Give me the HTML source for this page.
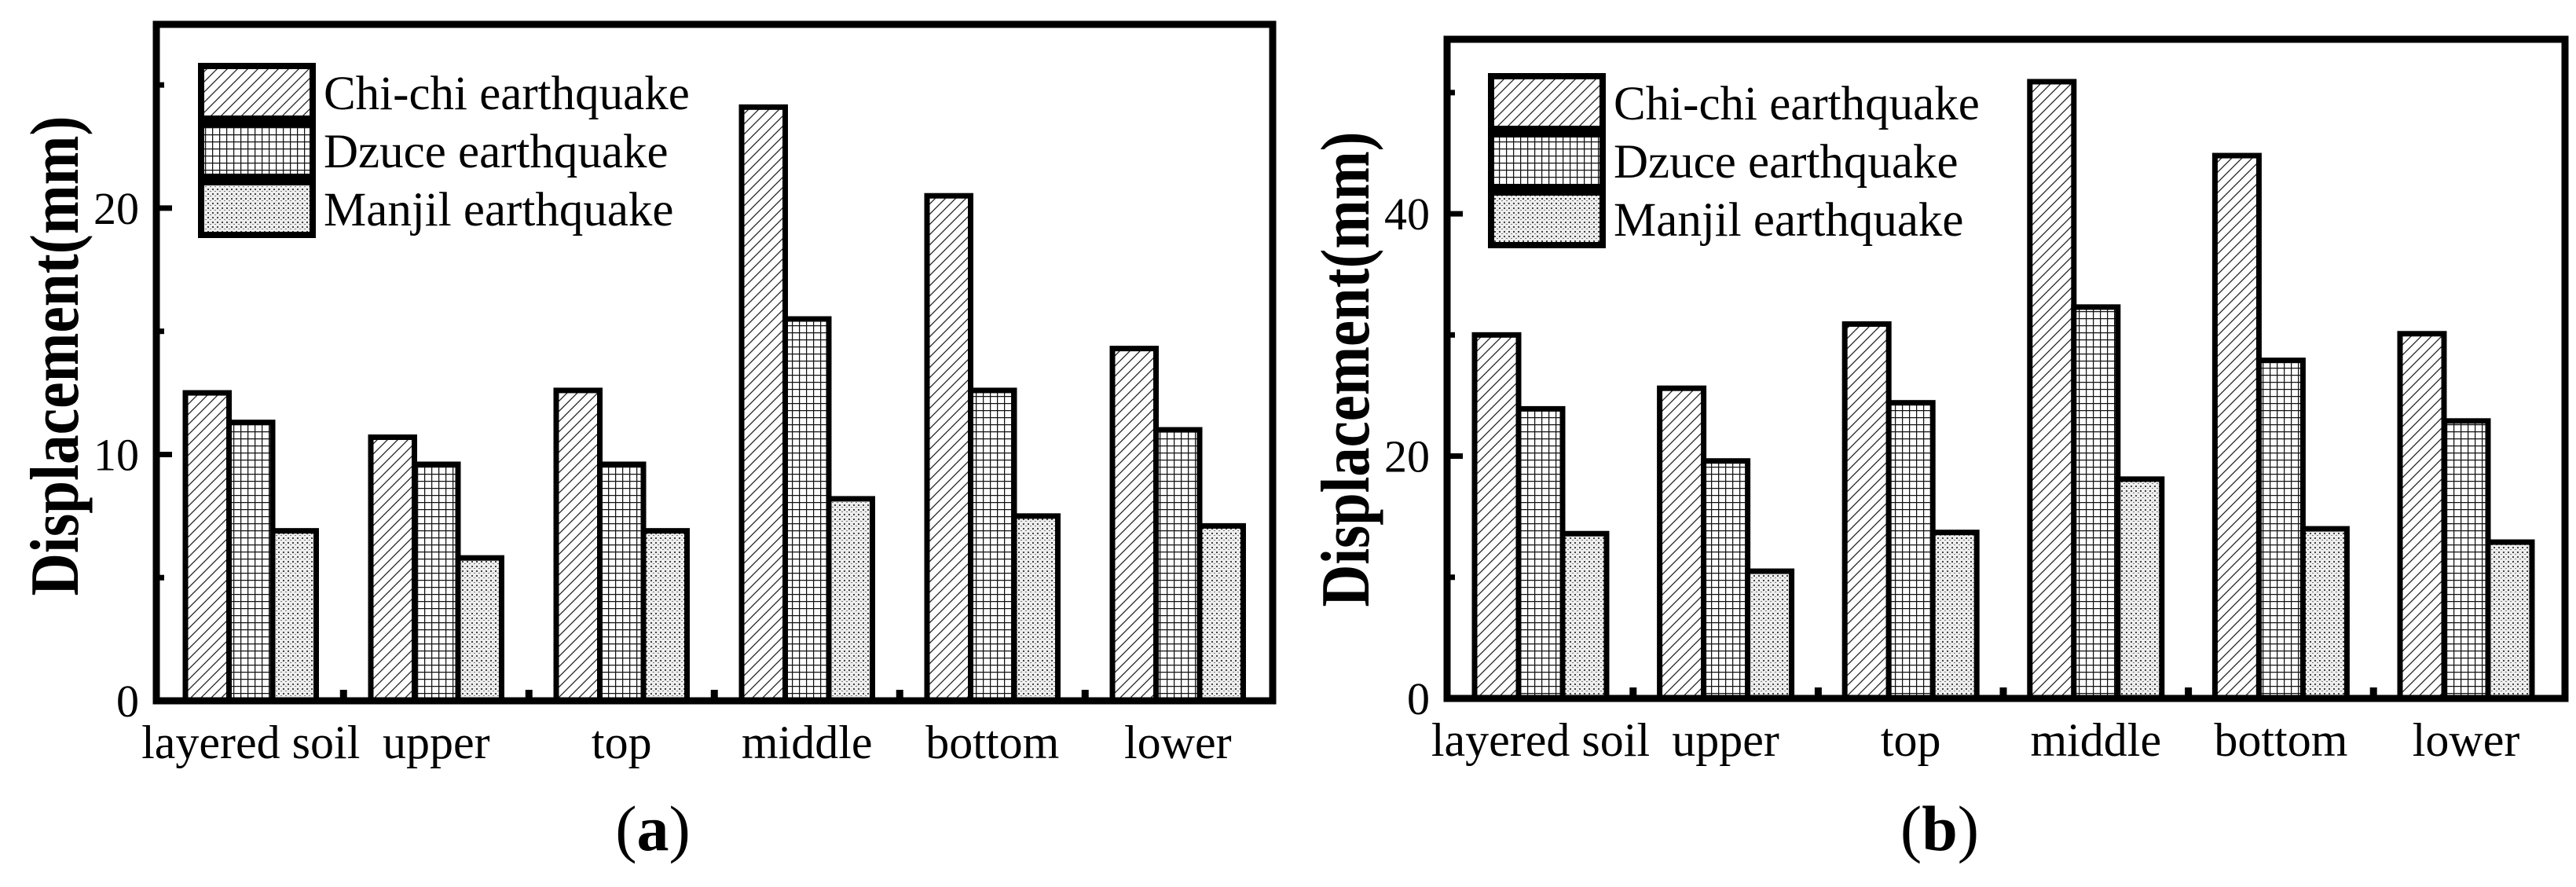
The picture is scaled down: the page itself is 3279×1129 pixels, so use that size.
<!DOCTYPE html>
<html><head><meta charset="utf-8"><style>
html,body{margin:0;padding:0;background:#fff;}
svg{display:block;}
text{font-family:"Liberation Serif",serif;fill:#000;}
</style></head><body>
<svg id="chart" width="3279" height="1129" viewBox="0 0 3279 1129" xmlns="http://www.w3.org/2000/svg">
<defs>
<pattern id="hatch" width="13" height="13" patternUnits="userSpaceOnUse">
<rect width="13" height="13" fill="#fff"/>
<path d="M0,13 L13,0 M-4,4 L4,-4 M9,17 L17,9" stroke="#222" stroke-width="1.3"/>
</pattern>
<pattern id="grid" width="9" height="9" patternUnits="userSpaceOnUse">
<rect width="9" height="9" fill="#fff"/>
<path d="M0,0.5 H9 M0.5,0 V9" stroke="#111" stroke-width="1.5"/>
</pattern>
<pattern id="dots" width="6" height="6" patternUnits="userSpaceOnUse">
<rect width="6" height="6" fill="#eee"/>
<rect x="0" y="0" width="2" height="2" fill="#444"/>
<rect x="3" y="3" width="2" height="1" fill="#777"/>
</pattern>
</defs>
</svg>
<script>
const categories = ["layered soil","upper","top","middle","bottom","lower"];
const seriesNames = ["Chi-chi earthquake","Dzuce earthquake","Manjil earthquake"];
const aChichi = [12.5, 10.7, 12.6, 24.1, 20.5, 14.3];
const aDzuce = [11.3, 9.6, 9.6, 15.5, 12.6, 11.0];
const aManjil = [6.9, 5.8, 6.9, 8.2, 7.5, 7.1];
const bChichi = [30.0, 25.6, 30.9, 50.9, 44.8, 30.1];
const bDzuce = [23.9, 19.6, 24.4, 32.3, 27.9, 22.9];
const bManjil = [13.6, 10.5, 13.7, 18.1, 14.0, 12.9];
const aTicks = [0, 10, 20];
const bTicks = [0, 20, 40];

const NS = "http://www.w3.org/2000/svg";
const svg = document.getElementById("chart");
const fills = ["url(#hatch)","url(#grid)","url(#dots)"];
function mk(tag, attrs, parent){
  const e = document.createElementNS(NS, tag);
  for (const k in attrs) e.setAttribute(k, attrs[k]);
  (parent||svg).appendChild(e);
  return e;
}
function panel(cfg){
  const g = mk("g", {});
  
  
  const y = v => cfg.bottom - v / cfg.max * (cfg.bottom - cfg.top);
  const series = cfg.series;
  for (let s = 0; s < 3; s++) {
    for (let i = 0; i < categories.length; i++) {
      const x = cfg.x0 + i * cfg.slot + s * cfg.bw;
      const r = mk("rect", {x: x, y: y(series[s][i]), width: cfg.bw, height: cfg.bottom - y(series[s][i]), fill: fills[s], stroke: "#000", "stroke-width": 7}, g);
      
      
    }
  }
  for (let i = 1; i < categories.length; i++) {
    const xm = cfg.x0 + i * cfg.slot - (cfg.slot - 3 * cfg.bw) / 2;
    const t = mk("line", {x1: xm, x2: xm, y1: cfg.bottom, y2: cfg.bottom - 14, stroke: "#000", "stroke-width": 9}, g);
    
    
  }
  const step = cfg.ticks[1] - cfg.ticks[0];
  for (let v = 0; v <= cfg.max; v += step / 2) {
    const major = Math.abs(v / step - Math.round(v / step)) < 1e-6;
    const t = mk("line", {x1: cfg.left, x2: cfg.left + (major ? 20 : 10), y1: y(v), y2: y(v), stroke: "#000", "stroke-width": 7}, g);
    
    
  }
  cfg.ticks.forEach(v => {
    const t = mk("text", {x: cfg.left - 22, y: y(v) + 20, "font-size": 58, "text-anchor": "end"}, g);
    t.textContent = v;
    
    
  });
  const f = mk("rect", {x: cfg.left, y: cfg.top, width: cfg.right - cfg.left, height: cfg.bottom - cfg.top, fill: "none", stroke: "#000", "stroke-width": 9}, g);
  
  
  categories.forEach((c, i) => {
    const t = mk("text", {x: cfg.x0 + i * cfg.slot + 1.5 * cfg.bw, y: cfg.bottom + 73, "font-size": 60, "text-anchor": "middle"}, g);
    t.textContent = c;
    
    
  });
  const yt = mk("text", {x: 0, y: 0, "font-size": 88, "font-weight": "bold", "text-anchor": "middle", textLength: cfg.titleLen, lengthAdjust: "spacingAndGlyphs", transform: "translate(" + (cfg.left - 100) + "," + cfg.titleY + ") rotate(-90)"}, g);
  yt.textContent = "Displacement(mm)";
  
  
  for (let s = 0; s < 3; s++) {
    const ly = cfg.legY + s * 74;
    const b = mk("rect", {x: cfg.legX, y: ly, width: 142, height: 67, fill: fills[s], stroke: "#000", "stroke-width": 8}, g);
    
    
    const t = mk("text", {x: cfg.legX + 156, y: ly + 55, "font-size": 61}, g);
    t.textContent = seriesNames[s];
    
    
  }
  const pl = mk("text", {x: cfg.labelX, y: 1082, "font-size": 82, "text-anchor": "middle"}, g);
  pl.innerHTML = '(<tspan font-weight="bold">' + cfg.id + '</tspan>)';
  
  
}
panel({id: "a", left: 199, right: 1620, top: 31, bottom: 892, max: 27.46, ticks: aTicks,
  x0: 236, slot: 236, bw: 55.5, series: [aChichi, aDzuce, aManjil], legX: 256, legY: 84,
  titleY: 453, titleLen: 611, labelX: 831});
panel({id: "b", left: 1842, right: 3265, top: 50, bottom: 889, max: 54.4, ticks: bTicks,
  x0: 1877, slot: 235.6, bw: 56, series: [bChichi, bDzuce, bManjil], legX: 1898, legY: 97,
  titleY: 470, titleLen: 605, labelX: 2469});
</script>
</body></html>
